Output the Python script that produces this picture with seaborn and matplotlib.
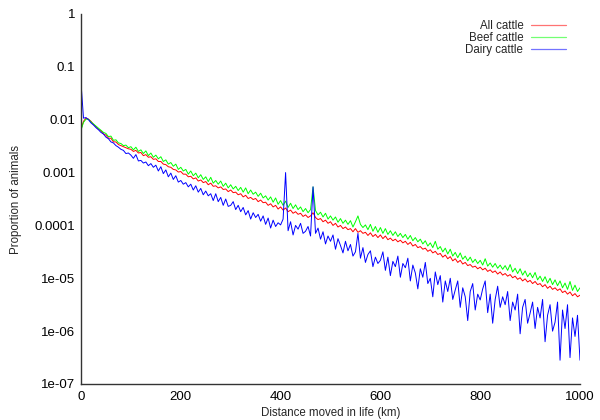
import numpy as np
import pandas as pd
import matplotlib
matplotlib.use("Agg")
import matplotlib.pyplot as plt
import matplotlib.ticker as mticker
import seaborn as sns

# distance bins (km), 5 km apart
distance_km = list(range(0, 1001, 5))

# log10 of proportion of animals
all_log = [
    -2.18, -2.03, -1.97, -1.99, -2.03, -2.09, -2.13, -2.18, -2.21, -2.27,
    -2.29, -2.35, -2.35, -2.42, -2.42, -2.47, -2.49, -2.51, -2.53, -2.55,
    -2.56, -2.60, -2.58, -2.63, -2.62, -2.68, -2.66, -2.71, -2.70, -2.75,
    -2.74, -2.79, -2.79, -2.84, -2.85, -2.89, -2.90, -2.94, -2.95, -2.99,
    -2.98, -3.03, -3.03, -3.08, -3.07, -3.12, -3.10, -3.16, -3.14, -3.19,
    -3.17, -3.23, -3.20, -3.26, -3.25, -3.29, -3.27, -3.32, -3.31, -3.36,
    -3.33, -3.38, -3.37, -3.42, -3.40, -3.46, -3.43, -3.49, -3.47, -3.51,
    -3.49, -3.55, -3.52, -3.57, -3.56, -3.62, -3.59, -3.65, -3.62, -3.69,
    -3.65, -3.71, -3.67, -3.74, -3.71, -3.77, -3.74, -3.79, -3.77, -3.83,
    -3.80, -3.85, -3.82, -3.76, -3.85, -3.89, -3.87, -3.93, -3.90, -3.96,
    -3.93, -4.00, -3.96, -4.03, -4.00, -4.06, -4.03, -4.08, -4.06, -4.12,
    -4.06, -4.13, -4.10, -4.15, -4.13, -4.19, -4.14, -4.21, -4.17, -4.23,
    -4.18, -4.25, -4.20, -4.27, -4.24, -4.29, -4.26, -4.31, -4.28, -4.33,
    -4.30, -4.36, -4.32, -4.39, -4.36, -4.42, -4.40, -4.45, -4.43, -4.49,
    -4.46, -4.52, -4.49, -4.55, -4.53, -4.60, -4.56, -4.63, -4.59, -4.67,
    -4.63, -4.70, -4.66, -4.73, -4.70, -4.76, -4.74, -4.79, -4.77, -4.82,
    -4.79, -4.84, -4.81, -4.87, -4.84, -4.89, -4.86, -4.92, -4.88, -4.94,
    -4.91, -4.96, -4.93, -4.99, -4.96, -5.02, -4.99, -5.05, -5.01, -5.07,
    -5.04, -5.10, -5.06, -5.12, -5.10, -5.16, -5.12, -5.19, -5.15, -5.21,
    -5.18, -5.23, -5.20, -5.27, -5.24, -5.30, -5.26, -5.33, -5.29, -5.35,
    -5.32,
]

beef_log = [
    -2.20, -2.05, -1.99, -1.99, -2.04, -2.08, -2.12, -2.16, -2.20, -2.24,
    -2.26, -2.32, -2.31, -2.39, -2.38, -2.44, -2.45, -2.49, -2.48, -2.53,
    -2.51, -2.57, -2.52, -2.60, -2.57, -2.64, -2.59, -2.68, -2.63, -2.71,
    -2.67, -2.74, -2.70, -2.79, -2.76, -2.84, -2.81, -2.88, -2.84, -2.94,
    -2.90, -2.97, -2.94, -3.03, -2.97, -3.06, -3.01, -3.10, -3.04, -3.13,
    -3.08, -3.17, -3.09, -3.20, -3.15, -3.22, -3.16, -3.26, -3.20, -3.29,
    -3.23, -3.31, -3.26, -3.34, -3.28, -3.37, -3.29, -3.40, -3.33, -3.41,
    -3.37, -3.45, -3.39, -3.48, -3.44, -3.52, -3.46, -3.56, -3.48, -3.60,
    -3.53, -3.62, -3.54, -3.66, -3.58, -3.68, -3.61, -3.70, -3.65, -3.74,
    -3.68, -3.76, -3.70, -3.27, -3.72, -3.80, -3.75, -3.84, -3.77, -3.88,
    -3.82, -3.90, -3.84, -3.94, -3.87, -3.96, -3.90, -3.98, -3.91, -4.03,
    -3.93, -3.82, -3.98, -4.04, -3.99, -4.08, -3.98, -4.11, -4.02, -4.13,
    -4.04, -4.15, -4.06, -4.17, -4.10, -4.19, -4.12, -4.21, -4.15, -4.23,
    -4.17, -4.26, -4.19, -4.29, -4.23, -4.31, -4.26, -4.35, -4.29, -4.39,
    -4.33, -4.42, -4.30, -4.45, -4.40, -4.50, -4.43, -4.54, -4.45, -4.58,
    -4.51, -4.61, -4.52, -4.64, -4.58, -4.67, -4.60, -4.70, -4.64, -4.72,
    -4.66, -4.75, -4.63, -4.77, -4.71, -4.79, -4.72, -4.81, -4.75, -4.83,
    -4.76, -4.85, -4.74, -4.88, -4.81, -4.91, -4.82, -4.94, -4.86, -4.97,
    -4.90, -4.99, -4.89, -5.03, -4.96, -5.06, -4.97, -5.09, -5.00, -5.12,
    -5.03, -5.14, -5.05, -5.18, -5.09, -5.21, -5.06, -5.23, -5.13, -5.25,
    -5.18,
]

dairy_log = [
    -1.30, -1.97, -1.96, -2.00, -2.06, -2.10, -2.15, -2.19, -2.24, -2.27,
    -2.33, -2.36, -2.42, -2.44, -2.49, -2.52, -2.56, -2.58, -2.64, -2.63,
    -2.67, -2.73, -2.66, -2.78, -2.77, -2.82, -2.80, -2.87, -2.83, -2.90,
    -2.86, -2.97, -2.89, -3.02, -2.95, -3.08, -3.01, -3.13, -3.06, -3.18,
    -3.15, -3.22, -3.19, -3.27, -3.22, -3.33, -3.25, -3.37, -3.30, -3.42,
    -3.35, -3.44, -3.40, -3.53, -3.40, -3.55, -3.47, -3.62, -3.50, -3.64,
    -3.62, -3.55, -3.70, -3.62, -3.74, -3.66, -3.80, -3.72, -3.88, -3.76,
    -3.85, -3.79, -3.92, -3.82, -3.98, -3.86, -4.05, -3.90, -4.02, -3.95,
    -3.99, -3.88, -3.00, -4.10, -3.93, -4.18, -4.00, -4.07, -3.96, -4.15,
    -4.11, -4.02, -4.20, -3.27, -4.15, -4.05, -4.26, -4.12, -4.35, -4.20,
    -4.30, -4.18, -4.45, -4.25, -4.38, -4.52, -4.30, -4.48, -4.36, -4.58,
    -4.50, -4.15, -4.62, -4.42, -4.70, -4.55, -4.48, -4.78, -4.60, -4.72,
    -4.66, -4.50, -4.85, -4.60, -4.95, -4.68, -4.78, -4.58, -4.98, -4.72,
    -4.80, -4.62, -5.05, -4.75, -4.90, -5.20, -4.82, -4.98, -4.70, -5.10,
    -5.00, -5.35, -4.88, -5.12, -4.95, -5.45, -5.05, -5.25, -5.00, -5.40,
    -5.22, -5.05, -5.55, -5.18, -5.35, -5.80, -5.25, -5.10, -5.60, -5.30,
    -5.41, -5.20, -5.05, -5.65, -5.30, -5.85, -5.40, -5.15, -5.55, -5.35,
    -5.50, -5.25, -5.80, -5.45, -5.60, -5.30, -6.05, -5.55, -5.40, -5.85,
    -5.66, -5.45, -5.95, -5.55, -5.75, -5.40, -6.20, -5.70, -5.50, -6.00,
    -5.83, -5.45, -6.55, -5.60, -5.95, -5.50, -6.50, -5.75, -6.10, -5.70,
    -6.55,
]

series_names = ["All cattle", "Beef cattle", "Dairy cattle"]
series_colors = ["#ff0000", "#00ff00", "#0000ff"]

yticks = [1, 0.1, 0.01, 0.001, 0.0001, 1e-5, 1e-6, 1e-7]
ytick_labels = ["1", "0.1", "0.01", "0.001", "0.0001", "1e-05", "1e-06", "1e-07"]
xticks = [0, 200, 400, 600, 800, 1000]

frames = []
for name, logs in zip(series_names, [all_log, beef_log, dairy_log]):
    frames.append(pd.DataFrame({
        "km": distance_km,
        "prop": np.power(10.0, np.array(logs)),
        "series": name,
    }))
df = pd.concat(frames, ignore_index=True)

sns.set_style("white")
plt.rcParams["font.family"] = ["Liberation Sans", "DejaVu Sans"]

fig = plt.figure(figsize=(6.0, 4.2), dpi=100)
ax = fig.add_axes([81 / 600, 1 - 384 / 420, 499 / 600, 370 / 420])

sns.lineplot(data=df, x="km", y="prop", hue="series", hue_order=series_names,
             palette=series_colors, estimator=None, sort=False,
             linewidth=0.7, ax=ax, legend=True)

ax.set_yscale("log")
ax.set_xlim(0, 1000)
ax.set_ylim(1e-7, 1)

ax.yaxis.set_major_locator(mticker.FixedLocator(yticks))
ax.yaxis.set_major_formatter(mticker.FixedFormatter(ytick_labels))
ax.yaxis.set_minor_locator(mticker.LogLocator(base=10, subs=[2, 5], numticks=20))
ax.yaxis.set_minor_formatter(mticker.NullFormatter())
ax.xaxis.set_major_locator(mticker.FixedLocator(xticks))

for side in ["top", "right"]:
    ax.spines[side].set_visible(False)
for side in ["left", "bottom"]:
    ax.spines[side].set_color("#333333")
    ax.spines[side].set_linewidth(1.0)

ax.tick_params(axis="both", which="major", direction="in", length=5,
               width=1.0, color="#555555", labelsize=9.5, labelcolor="black")
ax.tick_params(axis="y", which="major", pad=4)
ax.tick_params(axis="x", which="major", pad=5)
ax.tick_params(axis="y", which="minor", direction="in", length=3,
               width=1.0, color="#777777")

ax.set_xlabel("Distance moved in life (km)", fontsize=8.3)
ax.set_ylabel("Proportion of animals", fontsize=8.3)
ax.xaxis.set_label_coords(0.5, (384 - 407) / 370)
ax.yaxis.set_label_coords((22 - 81) / 499, 0.5)

handles, labels = ax.get_legend_handles_labels()
leg = ax.legend(handles, labels, loc="upper right",
                bbox_to_anchor=(566 / 600, 1 - 20 / 420),
                bbox_transform=fig.transFigure, frameon=False,
                markerfirst=False, fontsize=8.3, handlelength=3.0,
                handletextpad=0.7, labelspacing=0.0,
                borderpad=0, borderaxespad=0)
for line in leg.get_lines():
    line.set_linewidth(0.9)
    line.set_alpha(0.55)

fig.savefig("out.png", dpi=100)
